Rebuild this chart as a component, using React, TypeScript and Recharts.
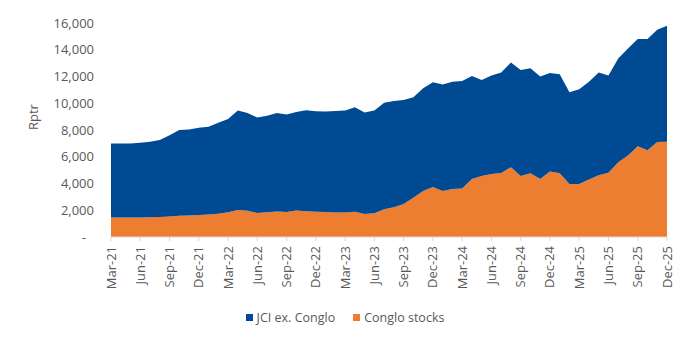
import { AreaChart, Area, XAxis, YAxis, Legend } from 'recharts';

const MONTHS = [
  'Mar-21', 'Apr-21', 'May-21', 'Jun-21', 'Jul-21', 'Aug-21', 'Sep-21', 'Oct-21', 'Nov-21', 'Dec-21',
  'Jan-22', 'Feb-22', 'Mar-22', 'Apr-22', 'May-22', 'Jun-22', 'Jul-22', 'Aug-22', 'Sep-22', 'Oct-22',
  'Nov-22', 'Dec-22', 'Jan-23', 'Feb-23', 'Mar-23', 'Apr-23', 'May-23', 'Jun-23', 'Jul-23', 'Aug-23',
  'Sep-23', 'Oct-23', 'Nov-23', 'Dec-23', 'Jan-24', 'Feb-24', 'Mar-24', 'Apr-24', 'May-24', 'Jun-24',
  'Jul-24', 'Aug-24', 'Sep-24', 'Oct-24', 'Nov-24', 'Dec-24', 'Jan-25', 'Feb-25', 'Mar-25', 'Apr-25',
  'May-25', 'Jun-25', 'Jul-25', 'Aug-25', 'Sep-25', 'Oct-25', 'Nov-25', 'Dec-25',
];

// Rp trillion, conglomerate stocks (bottom layer)
const CONGLO = [
  1450, 1450, 1450, 1450, 1470, 1500, 1530, 1580, 1600, 1650,
  1680, 1730, 1850, 2020, 1960, 1800, 1850, 1900, 1870, 1990,
  1920, 1880, 1870, 1830, 1840, 1880, 1720, 1770, 2080, 2230,
  2470, 2940, 3440, 3740, 3440, 3590, 3620, 4340, 4560, 4710,
  4790, 5210, 4560, 4760, 4340, 4890, 4760, 3970, 3970, 4300,
  4620, 4800, 5580, 6100, 6780, 6480, 7100, 7130,
];

// Rp trillion, JCI excluding conglomerates (stacked on top)
const JCI_EX = [
  5550, 5550, 5550, 5600, 5660, 5750, 6070, 6420, 6430, 6520,
  6570, 6820, 6980, 7430, 7310, 7130, 7220, 7370, 7280, 7350,
  7560, 7530, 7510, 7590, 7610, 7820, 7580, 7680, 7950, 7930,
  7780, 7510, 7680, 7830, 7960, 8010, 8050, 7700, 7180, 7360,
  7510, 7830, 7930, 7860, 7660, 7380, 7410, 6850, 7080, 7300,
  7680, 7280, 7770, 8000, 8020, 8320, 8400, 8670,
];

const Y_TICKS = [0, 2000, 4000, 6000, 8000, 10000, 12000, 14000, 16000];

const BLUE = '#004A93';
const ORANGE = '#ED7D31';
const GREY = '#595959';
const FONT = '"Open Sans", sans-serif';

const data = MONTHS.map((m, i) => ({ month: m, conglo: CONGLO[i], jci: JCI_EX[i] }));

function YTick({ x, y, payload }: any) {
  const v = payload.value as number;
  return (
    <text
      x={v === 0 ? x - 8 : x}
      y={y}
      dy="0.35em"
      textAnchor="end"
      fill={GREY}
      fontSize={13}
      fontFamily={FONT}
    >
      {v === 0 ? '-' : v.toLocaleString('en-US')}
    </text>
  );
}

function XTick({ x, y, payload }: any) {
  return (
    <text
      x={x}
      y={y}
      dy="0.35em"
      textAnchor="end"
      fill={GREY}
      fontSize={13}
      fontFamily={FONT}
      transform={`rotate(-90, ${x}, ${y})`}
    >
      {payload.value}
    </text>
  );
}

function LegendBox() {
  const items = [
    { label: 'JCI ex. Conglo', color: BLUE },
    { label: 'Conglo stocks', color: ORANGE },
  ];
  return (
    <div style={{ display: 'flex', justifyContent: 'center', gap: 18, fontFamily: FONT, fontSize: 12.5, color: GREY }}>
      {items.map((it) => (
        <div key={it.label} style={{ display: 'flex', alignItems: 'center' }}>
          <span style={{ width: 7, height: 7, background: it.color, display: 'inline-block', marginRight: 4 }} />
          {it.label}
        </div>
      ))}
    </div>
  );
}

export default function App() {
  return (
    <div style={{ position: 'absolute', left: 0, top: 0, width: 690, height: 347, background: '#fff' }}>
      <AreaChart width={690} height={347} data={data} margin={{ top: 23, right: 23, bottom: 0, left: 0 }}>
        <XAxis
          dataKey="month"
          interval={2}
          height={93}
          tickSize={4}
          tickMargin={5}
          axisLine={{ stroke: '#D9D9D9' }}
          tickLine={{ stroke: '#D9D9D9' }}
          tick={<XTick />}
        />
        <YAxis
          width={111}
          domain={[0, 16000]}
          ticks={Y_TICKS}
          axisLine={false}
          tickLine={false}
          tickSize={0}
          tickMargin={17}
          tick={<YTick />}
          label={{ value: 'Rptr', angle: -90, position: 'insideLeft', offset: 33, fill: GREY, fontSize: 13, fontFamily: FONT }}
        />
        <Legend content={<LegendBox />} wrapperStyle={{ left: 0, top: 309, width: 690 }} />
        <Area
          type="linear"
          dataKey="conglo"
          name="Conglo stocks"
          stackId="a"
          stroke="none"
          fill={ORANGE}
          fillOpacity={1}
          isAnimationActive={false}
        />
        <Area
          type="linear"
          dataKey="jci"
          name="JCI ex. Conglo"
          stackId="a"
          stroke="none"
          fill={BLUE}
          fillOpacity={1}
          isAnimationActive={false}
        />
      </AreaChart>
    </div>
  );
}
